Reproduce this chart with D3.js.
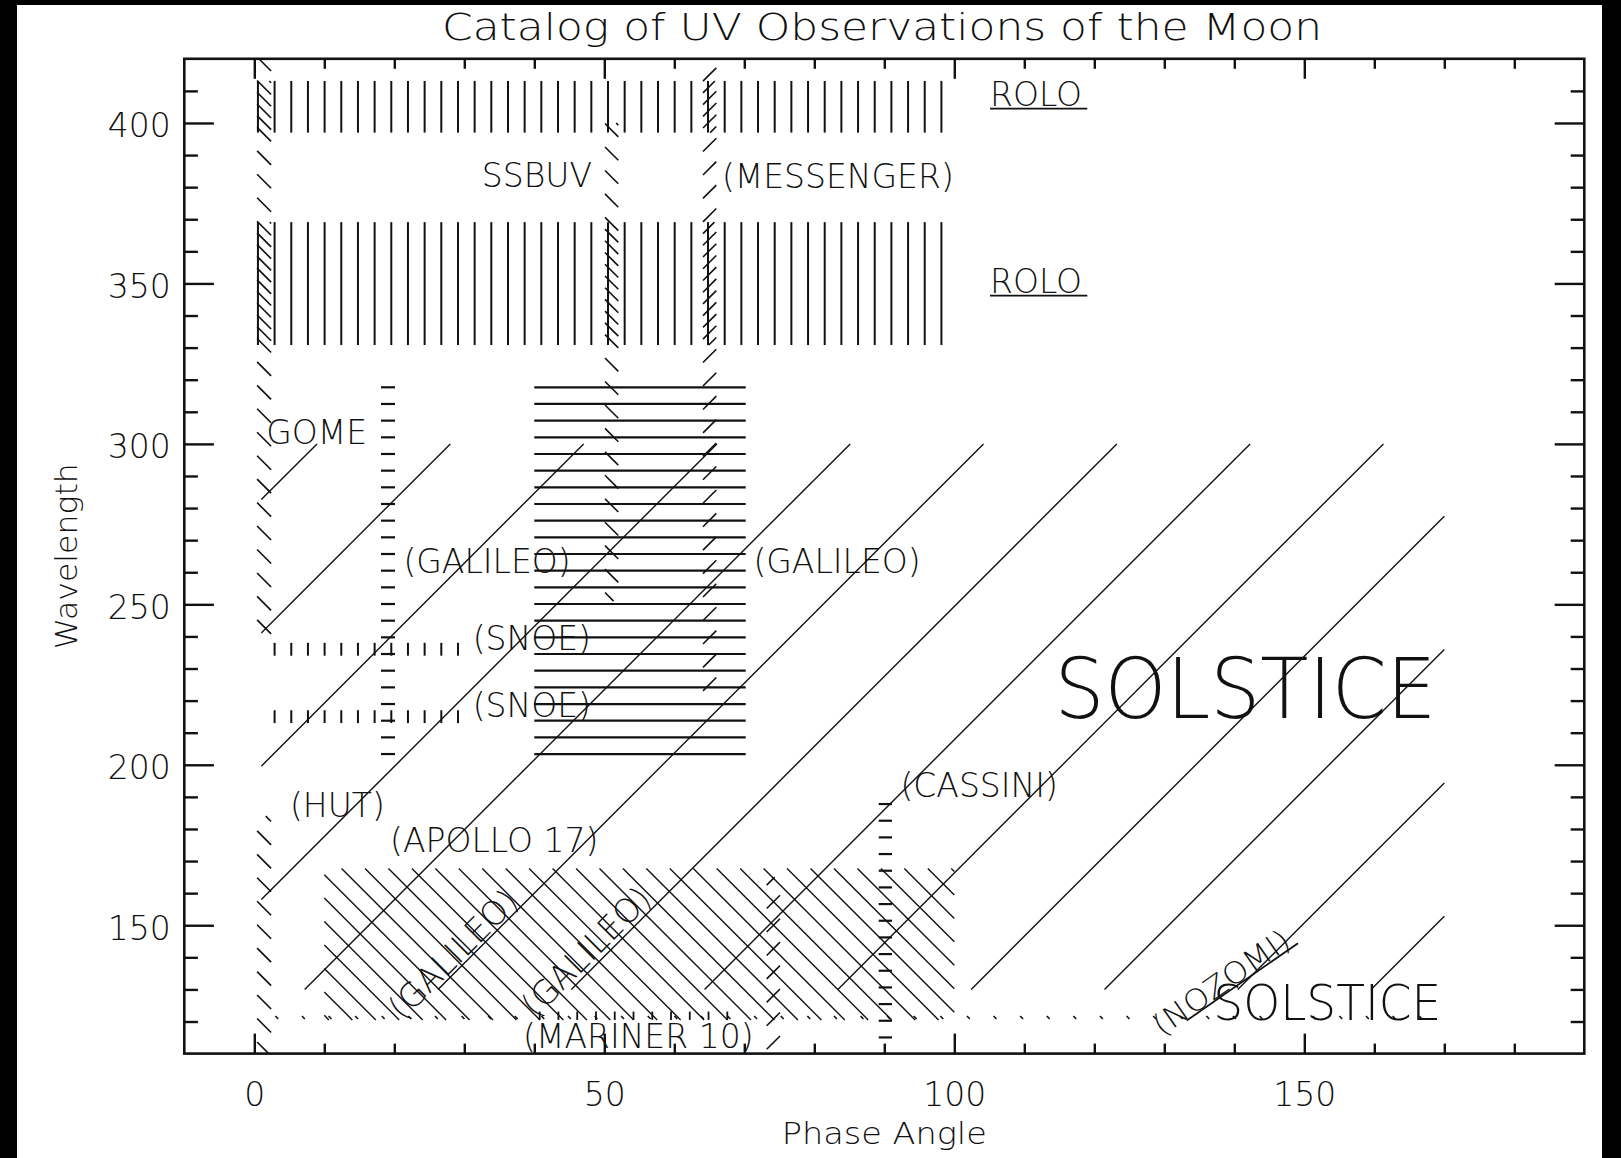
<!DOCTYPE html>
<html><head><meta charset="utf-8">
<script src="https://cdn.jsdelivr.net/npm/d3@7"></script>
<style>html,body{margin:0;padding:0;background:#000;} svg{display:block}</style>
</head><body>
<svg id="chart" width="1621" height="1158"></svg>
<script>
// ---------------- data ----------------
const chartTitle = "Catalog of UV Observations of the Moon";
const xTitle = "Phase Angle";
const yTitle = "Wavelength";
const xDomain = [-10, 190];
const yDomain = [110, 420];
const xMajorTicks = [0, 50, 100, 150];
const xTickLabels = ["0", "50", "100", "150"];
const xMinorTicks = [10, 20, 30, 40, 60, 70, 80, 90, 110, 120, 130, 140, 160, 170, 180];
const yMajorTicks = [150, 200, 250, 300, 350, 400];
const yTickLabels = ["150", "200", "250", "300", "350", "400"];
const yMinorTicks = [120, 130, 140, 160, 170, 180, 190, 210, 220, 230, 240, 260, 270, 280, 290, 310, 320, 330, 340, 360, 370, 380, 390, 410];

// observation regions (phase angle range, wavelength range)
const regionIds = ["roloA", "roloB", "gome", "ssbuv", "messenger", "galileoStrip", "galileoBlock", "snoeA", "snoeB",
                   "solstice", "hut", "apollo", "mariner", "cassini", "strip73", "lyman"];
const phaseLo = [0.4, 0.4, 0.4, 50.1, 64.1, 18.1, 40.0, 2.0, 2.0, 1.0, 0.4, 10.0, 40.0, 89.2, 73.2, 3.0];
const phaseHi = [98.4, 98.4, 2.4, 52.0, 66.0, 20.1, 70.2, 30.0, 30.0, 170.0, 2.4, 100.0, 68.0, 91.1, 75.1, 167.0];
const waveLo  = [397.0, 330.8, 240.5, 251.0, 223.0, 203.0, 203.0, 234.0, 213.0, 130.0, 110.0, 120.5, 120.5, 110.0, 110.0, 120.8];
const waveHi  = [413.1, 369.1, 420.0, 400.0, 420.0, 318.0, 318.0, 238.0, 217.0, 300.0, 184.0, 167.7, 123.1, 188.5, 165.0, 121.7];

// strips that get a denser hatch where they cross the ROLO blocks
const denseStrips = ["gome", "ssbuv", "messenger"];
const denseWith = ["roloA", "roloB"];

// labels
const labelText  = ["ROLO", "ROLO", "SSBUV", "(MESSENGER)", "GOME", "(GALILEO)", "(GALILEO)", "(SNOE)", "(SNOE)",
                    "SOLSTICE", "(HUT)", "(APOLLO 17)", "(CASSINI)", "(GALILEO)", "(GALILEO)", "(MARINER 10)", "(NOZOMI)", "SOLSTICE"];
const labelPhase = [105.1, 105.1, 32.5, 66.8, 1.7, 21.3, 71.3, 31.2, 31.2, 114.3, 5.1, 19.4, 92.3, 28.4, 47.4, 38.4, 139.0, 137.0];
const labelWave  = [405.3, 347.0, 380.1, 379.7, 300.0, 259.7, 259.7, 235.8, 215.0, 214.6, 183.8, 172.9, 190.0, 141.0, 141.8, 111.7, 129.5, 120.5];

// underline segments [phase1, wave1] -> [phase2, wave2]
const underlinePhase1 = [105.1, 105.1, 133.2];
const underlineWave1  = [404.5, 346.2, 120.3];
const underlinePhase2 = [119.0, 119.0, 149.1];
const underlineWave2  = [404.5, 346.2, 144.4];

// ---------------- styles / layout ----------------
const FONT = "'DejaVu Sans', 'Liberation Sans', sans-serif";
const FW = 200;
// hatch families: dir v=vertical, h=horizontal, f="/", b="\" ; sp/off in px
const hatchStyle = {
  roloA:        {dir: "v", sp: 16.67, off: 274.6, w: 2.0},
  roloB:        {dir: "v", sp: 16.67, off: 274.6, w: 2.0},
  gome:         {dir: "b", sp: 23.45, off: 11,    w: 1.6},
  ssbuv:        {dir: "b", sp: 23.45, off: 11,    w: 1.6},
  messenger:    {dir: "f", sp: 23.45, off: 10.3,  w: 1.6},
  galileoStrip: {dir: "h", sp: 16.67, off: 387.3, w: 2.2},
  galileoBlock: {dir: "h", sp: 16.67, off: 387.3, w: 2.2},
  snoeA:        {dir: "v", sp: 16.67, off: 274.6, w: 2.0},
  snoeB:        {dir: "v", sp: 16.67, off: 274.6, w: 2.0},
  solstice:     {dir: "f", sp: 133.3, off: 1560.7, w: 1.4},
  hut:          {dir: "b", sp: 23.45, off: 11,    w: 1.6},
  apollo:       {dir: "b", sp: 23.45, off: 11,    w: 1.4},
  mariner:      {dir: "v", sp: 18.76, off: 539.7, w: 1.8},
  cassini:      {dir: "h", sp: 16.67, off: 387.3, w: 2.2},
  strip73:      {dir: "f", sp: 23.45, off: 10.3,  w: 1.6},
  lyman:        {dir: "b", sp: 26.6,  off: 102.3, w: 1.6}
};
const labelSize  = [33, 33, 33, 33, 33, 33, 33, 33, 33, 84, 33, 33, 33, 33, 33, 33, 30, 50];
const labelRot   = [0, 0, 0, 0, 0, 0, 0, 0, 0, 0, 0, 0, 0, -45, -45, 0, -35, 0];
const labelFit   = [0, 0, 0, 0, 0, 0, 0, 0, 0, 382, 0, 0, 0, 0, 0, 0, 160, 228];

// ---------------- drawing ----------------
const svg = d3.select("#chart");
const W = 1621, H = 1158;
const M = {left: 184.3, right: 1584.3, top: 58.8, bottom: 1053.6};

svg.append("rect").attr("x", 0).attr("y", 0).attr("width", W).attr("height", H).attr("fill", "#000");
svg.append("rect").attr("x", 17).attr("y", 5).attr("width", 1602 - 17).attr("height", H - 5).attr("fill", "#fff");

const x = d3.scaleLinear().domain(xDomain).range([M.left, M.right]);
const y = d3.scaleLinear().domain(yDomain).range([M.bottom, M.top]);

function hatch(x0, x1, y0, y1, st) {
  const segs = [];
  const {dir, sp, off} = st;
  if (dir === "v") {
    for (let k = Math.ceil((x0 - off) / sp); off + k * sp <= x1; k++) {
      const xx = off + k * sp; segs.push([xx, y0, xx, y1]);
    }
  } else if (dir === "h") {
    for (let k = Math.ceil((y0 - off) / sp); off + k * sp <= y1; k++) {
      const yy = off + k * sp; segs.push([x0, yy, x1, yy]);
    }
  } else if (dir === "f") {
    for (let k = Math.ceil((x0 + y0 - off) / sp); off + k * sp <= x1 + y1; k++) {
      const c = off + k * sp;
      const xa = Math.max(x0, c - y1), xb = Math.min(x1, c - y0);
      if (xb > xa) segs.push([xa, c - xa, xb, c - xb]);
    }
  } else {
    for (let k = Math.ceil((y0 - x1 - off) / sp); off + k * sp <= y1 - x0; k++) {
      const c = off + k * sp;
      const xa = Math.max(x0, y0 - c), xb = Math.min(x1, y1 - c);
      if (xb > xa) segs.push([xa, xa + c, xb, xb + c]);
    }
  }
  return segs;
}

const gH = svg.append("g").attr("class", "hatches");
regionIds.forEach((id, i) => {
  const st = hatchStyle[id];
  const segs = hatch(x(phaseLo[i]), x(phaseHi[i]), y(waveHi[i]), y(waveLo[i]), st);
  gH.append("g").attr("class", id).selectAll("line").data(segs).join("line")
    .attr("x1", d => d[0]).attr("y1", d => d[1]).attr("x2", d => d[2]).attr("y2", d => d[3])
    .attr("stroke", "#111").attr("stroke-width", st.w);
});
// denser hatch where strips cross ROLO blocks
denseStrips.forEach(sid => {
  const i = regionIds.indexOf(sid);
  denseWith.forEach(rid => {
    const j = regionIds.indexOf(rid);
    const lo = Math.max(waveLo[i], waveLo[j]), hi = Math.min(waveHi[i], waveHi[j]);
    if (hi <= lo) return;
    const st = Object.assign({}, hatchStyle[sid]);
    st.off = st.off + st.sp / 2;
    const segs = hatch(x(phaseLo[i]), x(phaseHi[i]), y(hi), y(lo), st);
    gH.append("g").selectAll("line").data(segs).join("line")
      .attr("x1", d => d[0]).attr("y1", d => d[1]).attr("x2", d => d[2]).attr("y2", d => d[3])
      .attr("stroke", "#111").attr("stroke-width", st.w);
  });
});

// underlines
svg.append("g").selectAll("line").data(underlinePhase1.map((p, i) => i)).join("line")
  .attr("x1", i => x(underlinePhase1[i])).attr("y1", i => y(underlineWave1[i]))
  .attr("x2", i => x(underlinePhase2[i])).attr("y2", i => y(underlineWave2[i]))
  .attr("stroke", "#111").attr("stroke-width", 1.8);

// labels
const lab = svg.append("g").selectAll("text").data(labelText.map((t, i) => i)).join("text")
  .attr("transform", i => `translate(${x(labelPhase[i])},${y(labelWave[i])}) rotate(${labelRot[i]})`)
  .attr("text-anchor", i => labelRot[i] ? "middle" : "start")
  .attr("dominant-baseline", i => (labelRot[i] && labelText[i] !== "(NOZOMI)") ? "central" : "alphabetic")
  .attr("font-family", FONT).attr("font-weight", FW)
  .attr("font-size", i => labelSize[i]).attr("fill", "#111")
  .text(i => labelText[i]);
lab.filter(i => labelFit[i] > 0)
  .attr("textLength", i => labelFit[i]).attr("lengthAdjust", "spacingAndGlyphs");

// axes
const axG = svg.append("g").attr("class", "axes");
function styleAxis(g) {
  g.select(".domain").remove();
  g.selectAll("line").attr("stroke", "#111").attr("stroke-width", 2.4);
  g.selectAll("text").attr("font-family", FONT).attr("font-weight", FW).attr("font-size", 33).attr("fill", "#111");
}
// bottom
axG.append("g").attr("transform", `translate(0,${M.bottom})`)
  .call(d3.axisBottom(x).tickValues(xMajorTicks).tickSize(-20).tickPadding(29).tickFormat((d, i) => xTickLabels[i])).call(styleAxis);
axG.append("g").attr("transform", `translate(0,${M.bottom})`)
  .call(d3.axisBottom(x).tickValues(xMinorTicks).tickSize(-10).tickFormat("")).call(styleAxis);
// top
axG.append("g").attr("transform", `translate(0,${M.top})`)
  .call(d3.axisTop(x).tickValues(xMajorTicks).tickSize(-20).tickFormat("")).call(styleAxis);
axG.append("g").attr("transform", `translate(0,${M.top})`)
  .call(d3.axisTop(x).tickValues(xMinorTicks).tickSize(-10).tickFormat("")).call(styleAxis);
// left
axG.append("g").attr("transform", `translate(${M.left},0)`)
  .call(d3.axisLeft(y).tickValues(yMajorTicks).tickSize(-29.6).tickPadding(13.5).tickFormat((d, i) => yTickLabels[i])).call(styleAxis)
  .selectAll("text").attr("dy", "0.42em");
axG.append("g").attr("transform", `translate(${M.left},0)`)
  .call(d3.axisLeft(y).tickValues(yMinorTicks).tickSize(-13.6).tickFormat("")).call(styleAxis);
// right
axG.append("g").attr("transform", `translate(${M.right},0)`)
  .call(d3.axisRight(y).tickValues(yMajorTicks).tickSize(-29.6).tickFormat("")).call(styleAxis);
axG.append("g").attr("transform", `translate(${M.right},0)`)
  .call(d3.axisRight(y).tickValues(yMinorTicks).tickSize(-13.6).tickFormat("")).call(styleAxis);

// frame
svg.append("rect").attr("x", M.left).attr("y", M.top).attr("width", M.right - M.left).attr("height", M.bottom - M.top)
  .attr("fill", "none").attr("stroke", "#111").attr("stroke-width", 2.6);

// titles
svg.append("text").attr("x", 882).attr("y", 40).attr("text-anchor", "middle")
  .attr("font-family", FONT).attr("font-weight", FW).attr("font-size", 38).attr("fill", "#111")
  .attr("textLength", 880).attr("lengthAdjust", "spacingAndGlyphs").text(chartTitle);
svg.append("text").attr("x", (M.left + M.right) / 2).attr("y", 1143.5).attr("text-anchor", "middle")
  .attr("font-family", FONT).attr("font-weight", FW).attr("font-size", 30).attr("fill", "#111")
  .attr("textLength", 205).attr("lengthAdjust", "spacingAndGlyphs").text(xTitle);
svg.append("text").attr("transform", `translate(76.5,${(M.top + M.bottom) / 2}) rotate(-90)`).attr("text-anchor", "middle")
  .attr("font-family", FONT).attr("font-weight", FW).attr("font-size", 30).attr("fill", "#111")
  .attr("textLength", 186).attr("lengthAdjust", "spacingAndGlyphs").text(yTitle);
</script>
</body></html>
